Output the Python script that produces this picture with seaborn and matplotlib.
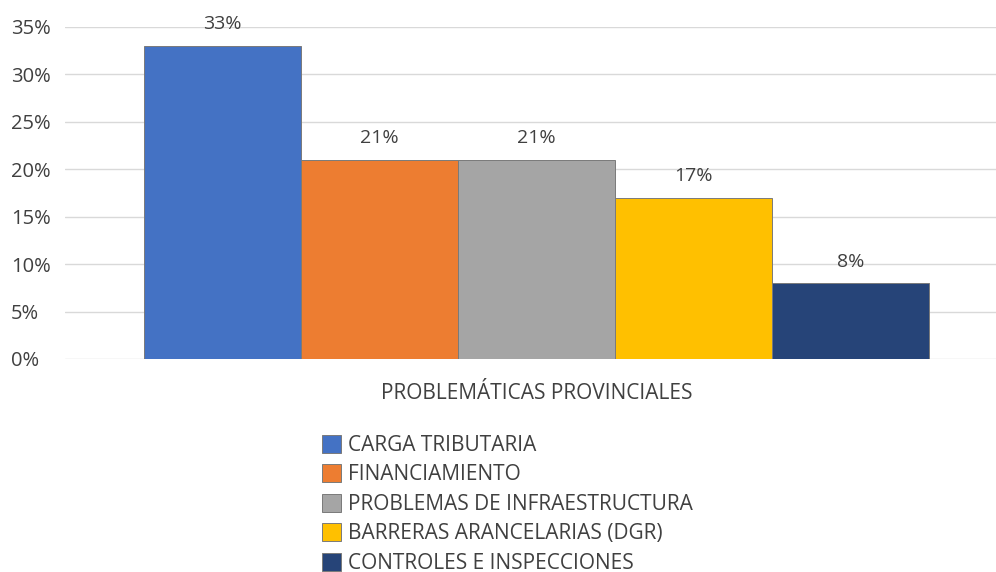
import pandas as pd
import matplotlib
matplotlib.use("Agg")
import matplotlib.pyplot as plt
import seaborn as sns
from matplotlib.patches import Patch
from matplotlib.ticker import FuncFormatter

# datos
categoria = ["PROBLEMÁTICAS PROVINCIALES"]
series = ["CARGA TRIBUTARIA", "FINANCIAMIENTO", "PROBLEMAS DE INFRAESTRUCTURA",
          "BARRERAS ARANCELARIAS (DGR)", "CONTROLES E INSPECCIONES"]
valores = [33, 21, 21, 17, 8]
colores = ["#4472C4", "#ED7D31", "#A5A5A5", "#FFC000", "#264478"]

df = pd.DataFrame({"categoria": categoria * len(series), "serie": series, "valor": valores})

sns.set_style("white")
plt.rcParams["font.family"] = ["Open Sans", "DejaVu Sans"]

fig = plt.figure(figsize=(9.96, 5.72), dpi=100)
ax = fig.add_axes([0.0653, 0.3724, 0.9347, 0.5804])

sns.barplot(data=df, x="categoria", y="valor", hue="serie", palette=colores,
            hue_order=series, saturation=1, edgecolor="#7a7a7a", linewidth=0.7,
            legend=False, ax=ax, width=0.8)

for cont in ax.containers:
    ax.bar_label(cont, fmt="%d%%", padding=9, fontsize=14, color="#404040")

ax.set_ylim(0, 35)
ax.set_xlim(-0.4805, 0.4683)
ax.set_yticks(range(0, 36, 5))
ax.yaxis.set_major_formatter(FuncFormatter(lambda v, p: f"{int(v)}%"))
ax.grid(axis="y", color="#d9d9d9", linewidth=1)
ax.set_axisbelow(True)
for s in ax.spines.values():
    s.set_visible(False)
# etiquetas del eje y alineadas a la izquierda, como en el original
ax.tick_params(axis="y", length=0, pad=39, labelsize=14.5, labelcolor="#404040")
for t in ax.get_yticklabels():
    t.set_horizontalalignment("left")
ax.tick_params(axis="x", length=0, pad=17, labelsize=15, labelcolor="#404040")
ax.set_xlabel("")
ax.set_ylabel("")

handles = [Patch(facecolor=c, edgecolor="#7a7a7a", linewidth=0.7) for c in colores]
fig.legend(handles, series, loc="upper left", bbox_to_anchor=(0.323, 0.24),
           frameon=False, fontsize=15, labelcolor="#404040",
           handlelength=0.95, handleheight=0.95, handletextpad=0.3,
           labelspacing=0.4, borderpad=0, borderaxespad=0)

plt.savefig("out.png", dpi=100)
plt.close()
